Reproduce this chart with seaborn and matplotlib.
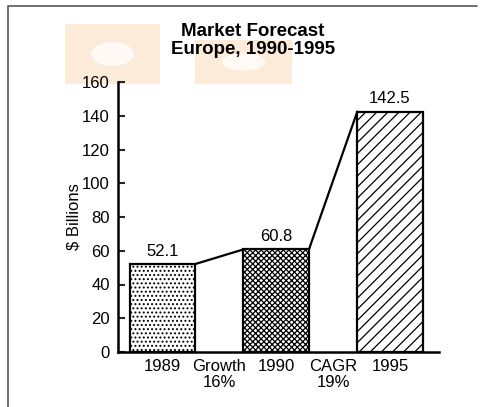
import matplotlib
matplotlib.use("Agg")
import matplotlib.pyplot as plt
from matplotlib.patches import Rectangle, Ellipse
from matplotlib.lines import Line2D
import seaborn as sns
import pandas as pd

# Data
categories = ["1989", "Growth\n16%", "1990", "CAGR\n19%", "1995"]
bar_years = ["1989", "1990", "1995"]
bar_values = [52.1, 60.8, 142.5]
value_labels = ["52.1", "60.8", "142.5"]
y_ticks = [0, 20, 40, 60, 80, 100, 120, 140, 160]
title_lines = ["Market Forecast", "Europe, 1990-1995"]
y_label = r"\$ Billions"

sns.set_theme(style="white")
plt.rcParams["font.family"] = ["Liberation Sans", "DejaVu Sans"]
plt.rcParams["hatch.linewidth"] = 0.9

W, H = 480, 407
fig = plt.figure(figsize=(W / 100, H / 100), dpi=100)
fig.patch.set_facecolor("white")

# faint scan artifacts (orange blotches) behind title
for (x0, y0, x1, y1) in [(65, 24, 160, 84), (195, 40, 292, 84)]:
    fig.patches.append(Rectangle((x0 / W, 1 - y1 / H), (x1 - x0) / W, (y1 - y0) / H,
                                 transform=fig.transFigure, facecolor="#fcebd8",
                                 edgecolor="none", zorder=-2))
    fig.patches.append(Ellipse(((x0 + x1) / 2 / W, 1 - (y0 + y1) / 2 / H),
                               (x1 - x0) * 0.45 / W, (y1 - y0) * 0.4 / H,
                               transform=fig.transFigure, facecolor="#fffaf5",
                               edgecolor="none", zorder=-1.5))

# outer frame (left and top edges)
fig.lines.append(Line2D([8 / W, 8 / W, 477 / W], [0, 1 - 6 / H, 1 - 6 / H],
                        transform=fig.transFigure, color="#555555", linewidth=1.2))

ax = fig.add_axes([118 / W, 1 - 352 / H, (439 - 118) / W, (352 - 82) / H])
ax.set_facecolor("none")
ax.set_zorder(1)

df = pd.DataFrame({"cat": bar_years, "val": bar_values})
sns.barplot(data=df, x="cat", y="val", order=categories, ax=ax,
            width=1.15, color="white", edgecolor="black", linewidth=1.6,
            errorbar=None, zorder=3)

hatches = {"1989": "....", "1990": "xxxxxx", "1995": "///"}
bars = sorted(ax.patches, key=lambda p: p.get_x())
for p, yr, lab in zip(bars, bar_years, value_labels):
    p.set_hatch(hatches[yr])
    p.set_facecolor("white")
    p.set_edgecolor("black")
    ax.annotate(lab, (p.get_x() + p.get_width() / 2, p.get_height()),
                xytext=(0, 4), textcoords="offset points", ha="center",
                va="bottom", fontsize=12, color="black")

# connectors between bars
for a, b in zip(bars[:-1], bars[1:]):
    ax.plot([a.get_x() + a.get_width(), b.get_x()], [a.get_height(), b.get_height()],
            color="black", linewidth=1.6, zorder=4, solid_capstyle="round")

ax.set_xlim(-0.78, 4.86)
ax.set_ylim(0, 160)
ax.set_yticks(y_ticks)
ax.set_yticklabels([str(v) for v in y_ticks], fontsize=12, color="black")
ax.set_xticks(range(len(categories)))
ax.set_xticklabels(categories, fontsize=12, color="black", linespacing=1.05)
ax.tick_params(axis="y", direction="in", length=5, width=1.5, pad=6, left=True)
ax.tick_params(axis="x", length=0, pad=5)
ax.set_xlabel("")
ax.set_ylabel(y_label, fontsize=12, color="black")
ax.yaxis.set_label_coords((81 - 118) / 321, 0.5)

for s in ["top", "right"]:
    ax.spines[s].set_visible(False)
for s in ["left", "bottom"]:
    ax.spines[s].set_color("black")
    ax.spines[s].set_linewidth(1.8)

fig.text(253 / W, 1 - 31 / H, title_lines[0], ha="center", va="center",
         fontsize=13.5, fontweight="bold", color="black")
fig.text(253 / W, 1 - 50 / H, title_lines[1], ha="center", va="center",
         fontsize=13.5, fontweight="bold", color="black")

fig.savefig("out.png", dpi=100)
